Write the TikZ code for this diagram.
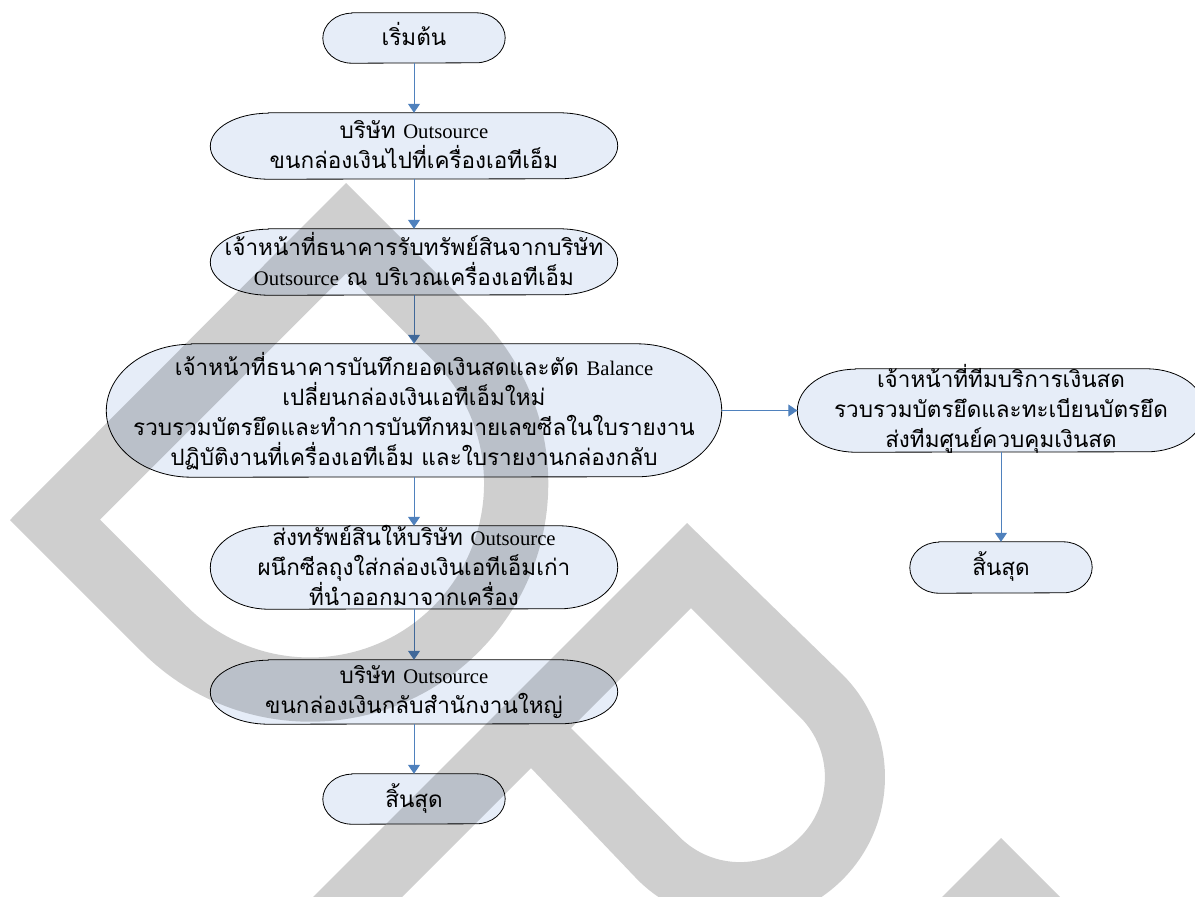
\documentclass[tikz,border=0pt]{standalone}
\usepackage{fontspec}
\setmainfont[Script=Thai]{Loma}
\newfontfamily\latin[Scale=0.92]{Liberation Serif}
\usetikzlibrary{calc,arrows.meta,backgrounds}

\definecolor{boxfill}{HTML}{E6EDF8}
\definecolor{flowblue}{HTML}{4F81BD}
\newcommand\flowfont{\fontsize{22.5}{30}\selectfont\lineskiplimit-20pt\relax}

\tikzset{
  flow/.style={inner sep=0pt,align=center,font=\flowfont},
  termline/.style={draw=black,line width=0.8pt,fill=boxfill},
  link/.style={-{Triangle[length=9pt,width=12pt]},draw=flowblue,line width=1pt},
  stamp/.style={fill=black,fill opacity=0.19,even odd rule}
}

\begin{document}
\begin{tikzpicture}[x=1pt,y=-1pt]
\useasboundingbox (0,0) rectangle (1195,897);

% main column
\node[flow,minimum width=182pt,text height=32pt,text depth=18pt] (start) at (414,38) {เริ่มต้น};
\node[flow,minimum width=407pt,text height=55pt,text depth=11pt] (carry) at (414,146) {บริษัท {\latin Outsource}\\ขนกล่องเงินไปที่เครื่องเอทีเอ็ม};
\node[flow,minimum width=407pt,text height=56pt,text depth=10pt] (recv) at (414,262) {เจ้าหน้าที่ธนาคารรับทรัพย์สินจากบริษัท\\{\latin Outsource} ณ บริเวณเครื่องเอทีเอ็ม};
\node[flow,minimum width=615pt,text height=121pt,text depth=12pt] (rec) at (414,410.5) {เจ้าหน้าที่ธนาคารบันทึกยอดเงินสดและตัด {\latin Balance}\\เปลี่ยนกล่องเงินเอทีเอ็มใหม่\\รวบรวมบัตรยึดและทำการบันทึกหมายเลขซีลในใบรายงาน\\ปฏิบัติงานที่เครื่องเอทีเอ็ม และใบรายงานกล่องกลับ};
\node[flow,minimum width=407pt,text height=79pt,text depth=4pt] (send) at (414,567.5) {ส่งทรัพย์สินให้บริษัท {\latin Outsource}\\ผนึกซีลถุงใส่กล่องเงินเอทีเอ็มเก่า\\ที่นำออกมาจากเครื่อง};
\node[flow,minimum width=407pt,text height=53pt,text depth=11pt] (back) at (414,692) {บริษัท {\latin Outsource}\\ขนกล่องเงินกลับสำนักงานใหญ่};
\node[flow,minimum width=182pt,text height=33pt,text depth=17pt] (stop) at (414,799) {สิ้นสุด};

% cash team branch
\node[flow,minimum width=407pt,text height=78pt,text depth=5pt] (team) at (1001,410.5) {เจ้าหน้าที่ทีมบริการเงินสด\\รวบรวมบัตรยึดและทะเบียนบัตรยึด\\ส่งทีมศูนย์ควบคุมเงินสด};
\node[flow,minimum width=182pt,text height=33pt,text depth=18pt] (stopr) at (1001,567.5) {สิ้นสุด};

\begin{scope}[on background layer]
\foreach \nd/\rx/\ry in {start/29pt/25pt,carry/58pt/33pt,recv/58pt/33pt,rec/85pt/66.5pt,send/58pt/41.5pt,back/58pt/32pt,stop/29pt/25pt,team/58pt/41.5pt,stopr/29pt/25.5pt}
  \draw[termline] ($(\nd.north west)+(\rx,0)$) -- ($(\nd.north east)-(\rx,0)$)
    arc[start angle=90,end angle=-90,x radius=\rx,y radius=\ry]
    -- ($(\nd.south west)+(\rx,0)$)
    arc[start angle=270,end angle=90,x radius=\rx,y radius=\ry] -- cycle;
\end{scope}

\draw[link] (start) -- (carry);
\draw[link] (carry) -- (recv);
\draw[link] (recv) -- (rec);
\draw[link] (rec) -- (send);
\draw[link] (send) -- (back);
\draw[link] (back) -- (stop);
\draw[link] (rec) -- (team);
\draw[link] (team) -- (stopr);

% watermark
\begin{scope}
\clip (0,0) rectangle (1195,897);
\fill[stamp] (346,183) -- (10,520) -- (142,652) arc[start angle=-135,end angle=45,radius=238pt] -- cycle
  (346,273.5) -- (100,519.5) -- (187,606.5) arc[start angle=-135,end angle=45,radius=174pt] -- cycle;
\fill[stamp] (687,523) -- (842.5,674.5) arc[start angle=45,end angle=-135,radius=145pt] -- (531,768) -- (360,939) -- (271,939) -- cycle
  (691,608) -- (800,717) arc[start angle=45,end angle=-135,radius=85pt] -- (571,728) -- cycle;
\fill[stamp] (1001,838) -- (930,909) -- (1072,909) -- cycle;
\end{scope}
\end{tikzpicture}
\end{document}
